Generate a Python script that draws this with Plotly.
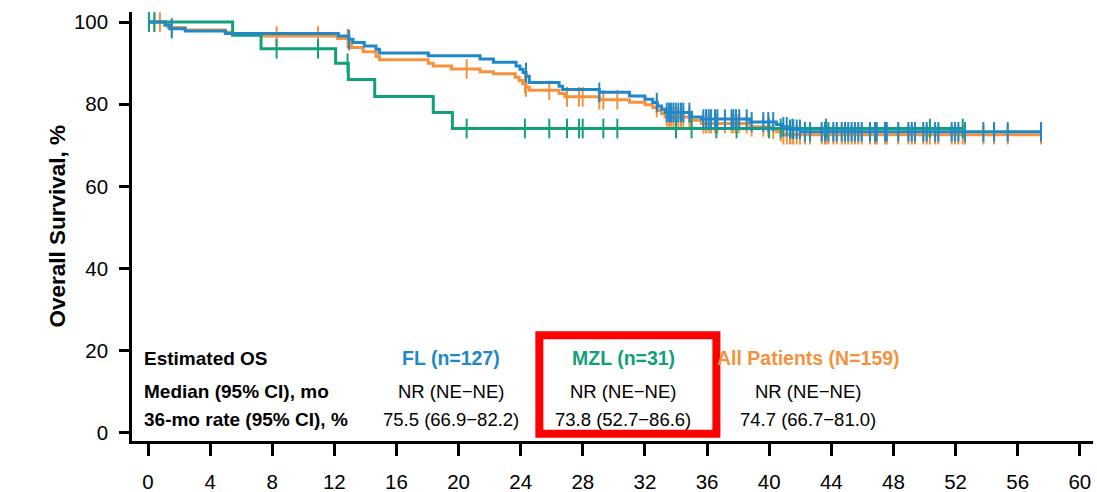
import numpy as np
import plotly.graph_objects as go

# ---- Kaplan-Meier steps: event times (months) and survival (%) after each drop ----
fl_t = [1.1, 1.4, 2.4, 5.0, 12.26, 12.94, 13.2, 13.93, 14.68, 14.9, 18.05, 21.38,
        22.24, 23.7, 23.95, 24.15, 24.35, 24.55, 26.47, 26.7, 29.06, 31.0, 32.0,
        32.5, 32.8, 33.07, 33.3, 35.0, 35.64, 38.76, 40.47, 40.8, 41.3, 42.0]
fl_s = [99.2, 98.4, 97.8, 97.2, 96.6, 95.8, 95.0, 94.2, 93.4, 92.5, 91.8, 91.0,
        90.2, 89.3, 88.5, 87.7, 86.8, 85.3, 84.4, 83.6, 82.9, 82.0, 81.2,
        80.4, 79.6, 78.8, 78.0, 76.9, 76.4, 75.7, 75.1, 74.5, 73.9, 73.3]
fl_end = 57.5

mzl_t = [5.45, 7.28, 12.08, 12.9, 14.6, 18.37, 19.6]
mzl_s = [96.8, 93.5, 90.0, 86.0, 81.9, 78.0, 74.1]
mzl_end = 52.46

all_t = [1.1, 1.3, 2.4, 4.96, 5.45, 7.3, 12.19, 12.9, 13.1, 13.86, 14.68, 14.9,
         18.05, 18.37, 19.55, 21.38, 22.24, 23.65, 23.9, 24.12, 24.34, 24.55,
         26.47, 26.85, 29.06, 31.0, 32.0, 32.5, 32.8, 33.07, 33.3, 35.0, 35.64,
         38.76, 40.2, 40.47, 40.8]
all_s = [99.4, 98.7, 98.1, 97.5, 97.1, 96.6, 96.0, 95.4, 93.8, 92.8, 91.6, 90.8,
         90.0, 89.3, 88.6, 87.9, 87.4, 86.6, 85.8, 85.0, 84.2, 83.4,
         82.6, 81.8, 81.1, 80.5, 79.9, 79.2, 78.5, 77.7, 76.9, 76.1, 75.3,
         74.5, 73.9, 73.3, 72.6]
all_end = 57.5

# ---- censoring times (months) ----
fl_cens = [1.53, 12.94, 24.34, 29.06, 32.76, 33.40, 33.55, 33.68, 33.83, 33.98,
           34.15, 34.32, 34.47, 34.86, 35.76, 35.93, 36.10, 36.25, 36.51, 36.66,
           37.15, 37.58, 37.69, 37.86, 38.07, 38.55, 38.87, 39.62, 39.94, 40.26,
           40.91, 41.13, 41.34, 41.55, 41.77, 41.98, 42.30, 42.63, 43.38, 43.59,
           43.81, 44.13, 44.35, 44.67, 44.88, 45.09, 45.31, 45.52, 45.74, 45.96,
           46.49, 46.81, 46.92, 47.46, 47.57, 48.31, 48.96, 49.18, 49.39, 49.92,
           50.14, 50.68, 50.89, 51.75, 51.96, 52.18, 52.61, 53.79, 54.48, 55.36,
           57.50]
mzl_cens = [0.06, 0.41, 8.28, 10.95, 12.85, 20.52, 24.27, 25.84, 26.98, 27.75,
            27.99, 29.32, 30.22, 34.0, 35.0, 36.6, 37.9, 39.99, 40.74, 41.5,
            43.66, 50.35, 52.46]
other_cens = [0.77]
all_cens = sorted(fl_cens + mzl_cens + other_cens)

# ---- axis ticks ----
x_ticks = list(range(0, 61, 4))
y_ticks = list(range(0, 101, 20))

# ---- table of estimates ----
row_labels = ["Estimated OS", "Median (95% CI), mo", "36-mo rate (95% CI), %"]
group_names = ["FL (n=127)", "MZL (n=31)", "All Patients (N=159)"]
medians = ["NR (NE\u2212NE)", "NR (NE\u2212NE)", "NR (NE\u2212NE)"]
rates36 = ["75.5 (66.9\u221282.2)", "73.8 (52.7\u221286.6)", "74.7 (66.7\u221281.0)"]

BLUE = "#1f88c9"
ORANGE = "#f5923e"
GREEN = "#12a07b"
SANS = "Liberation Sans, Arial, sans-serif"


def km_path(t, s, end):
    xs = [0.0] + list(t) + [end]
    ys = [100.0] + list(s) + [s[-1]]
    return xs, ys


def surv_at(t, s, times):
    t = np.asarray(t)
    s = np.asarray([100.0] + list(s))
    idx = np.searchsorted(t, np.asarray(times), side="right")
    return s[idx]


fig = go.Figure()

series = [
    (all_t, all_s, all_end, all_cens, ORANGE),
    (mzl_t, mzl_s, mzl_end, mzl_cens, GREEN),
    (fl_t, fl_s, fl_end, fl_cens, BLUE),
]
for t, s, end, cens, col in series:
    xs, ys = km_path(t, s, end)
    fig.add_trace(go.Scatter(x=xs, y=ys, mode="lines", line=dict(color=col, width=3, shape="hv"),
                             showlegend=False, hoverinfo="skip"))
    fig.add_trace(go.Scatter(x=cens, y=surv_at(t, s, cens), mode="markers",
                             marker=dict(symbol="line-ns-open", size=14, color=col,
                                         line=dict(color=col, width=2)),
                             showlegend=False, hoverinfo="skip"))

annotations = []
row_y = [18.2, 10.2, 3.2]
col_x = [19.5, 30.6, 42.5]
group_cols = [BLUE, GREEN, ORANGE]
for lab, yy in zip(row_labels, row_y):
    annotations.append(dict(x=-0.4, y=yy, xref="x", yref="y", text="<b>%s</b>" % lab,
                            showarrow=False, xanchor="left", yanchor="middle",
                            font=dict(family=SANS, size=19, color="black")))
for i, cx in enumerate(col_x):
    annotations.append(dict(x=cx, y=row_y[0], xref="x", yref="y", text="<b>%s</b>" % group_names[i],
                            showarrow=False, xanchor="center", yanchor="middle",
                            font=dict(family=SANS, size=19.5, color=group_cols[i])))
    annotations.append(dict(x=cx, y=row_y[1], xref="x", yref="y", text=medians[i],
                            showarrow=False, xanchor="center", yanchor="middle",
                            font=dict(family=SANS, size=18.5, color="black")))
    annotations.append(dict(x=cx, y=row_y[2], xref="x", yref="y", text=rates36[i],
                            showarrow=False, xanchor="center", yanchor="middle",
                            font=dict(family=SANS, size=18.5, color="black")))

annotations.append(dict(x=-0.078, y=0.5, xref="paper", yref="paper", text="<b>Overall Survival, %</b>",
                        textangle=-90, showarrow=False, xanchor="center", yanchor="middle",
                        font=dict(family=SANS, size=22.5, color="black")))

fig.update_layout(
    width=1097, height=492,
    margin=dict(l=132, r=4, t=12, b=51),
    paper_bgcolor="white", plot_bgcolor="white",
    annotations=annotations,
    shapes=[dict(type="rect", xref="x", yref="y", x0=25.2, x1=36.6, y0=-0.2, y1=23.8,
                 line=dict(color="#ff0000", width=8), fillcolor="rgba(0,0,0,0)")],
)
fig.update_xaxes(range=[-1.03, 60.85], tickvals=x_ticks, ticktext=[str(v) for v in x_ticks],
                 showline=True, linecolor="black", linewidth=2.5, ticks="outside", ticklen=12,
                 tickwidth=2.5, tickcolor="black", showgrid=False, zeroline=False, automargin=False,
                 tickfont=dict(family=SANS, size=20.5, color="black"), ticklabelstandoff=9)
fig.update_yaxes(range=[-1.95, 102.45], tickvals=y_ticks, ticktext=[str(v) for v in y_ticks],
                 showline=True, linecolor="black", linewidth=2.5, ticks="outside", ticklen=10,
                 tickwidth=2.5, tickcolor="black", showgrid=False, zeroline=False, automargin=False,
                 tickfont=dict(family=SANS, size=20.5, color="black"), ticklabelstandoff=7)

fig.write_html("out.html")
